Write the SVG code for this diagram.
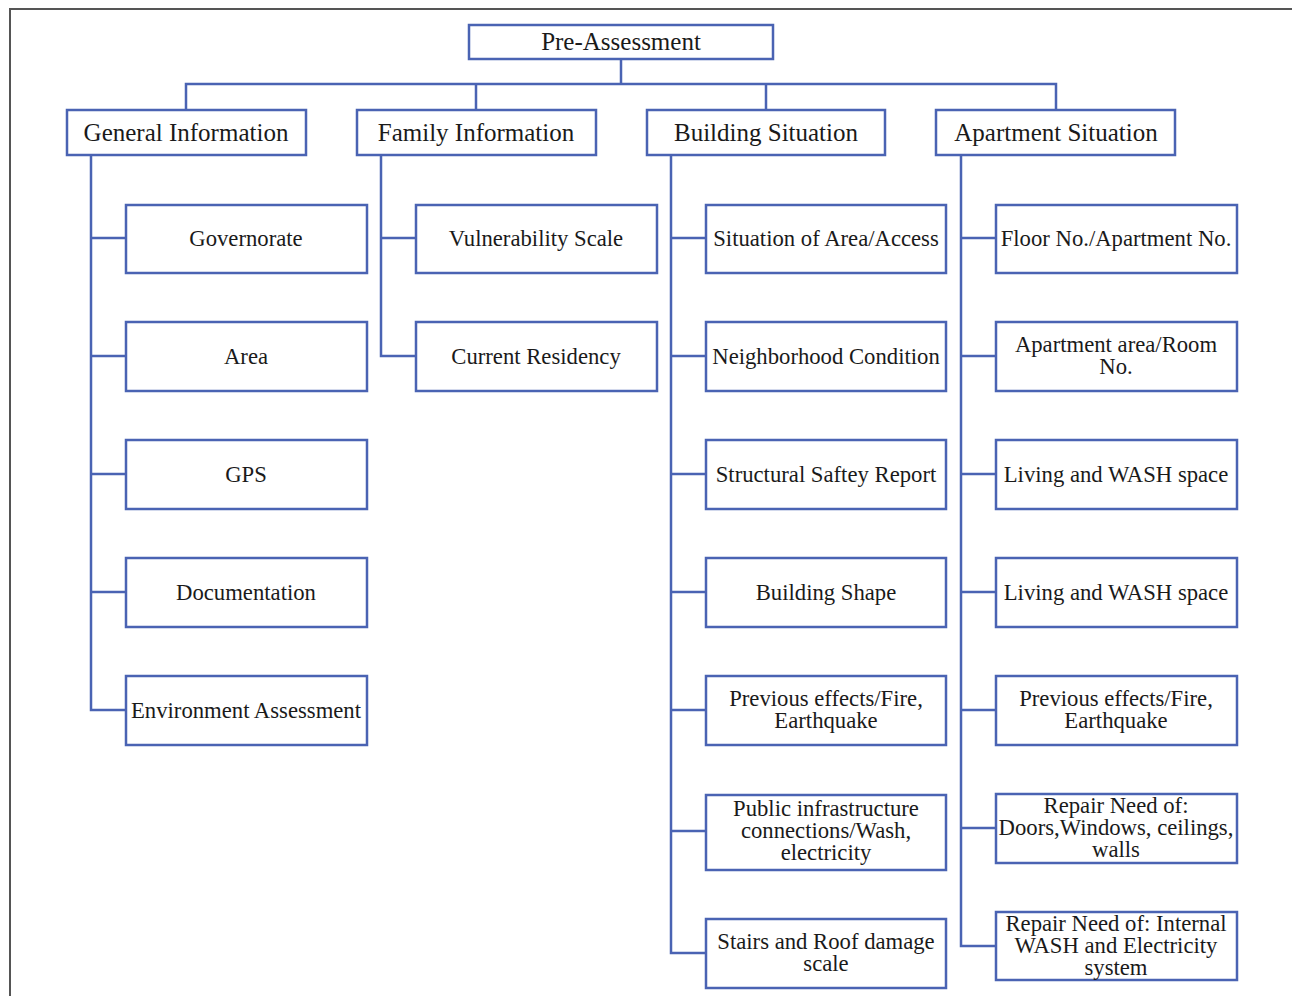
<svg xmlns="http://www.w3.org/2000/svg" width="1292" height="996" viewBox="0 0 1292 996">
<style>
.b{fill:#fff;stroke:#4a63b3;stroke-width:2.5}
.c{fill:none;stroke:#4a63b3;stroke-width:2.5}
text{font-family:"Liberation Serif","Times New Roman",serif;font-size:22.7px;fill:#1a1a1a;text-anchor:middle}
.h{font-size:25px}
</style>
<rect width="1292" height="996" fill="#fff"/>
<path d="M10 996V9H1292" fill="none" stroke="#555" stroke-width="2"/>
<g id="connectors" class="c">
<path d="M621 59V84M186 110V84H1056V110M476 84V110M766 84V110"/>
<path d="M91 155V710H126M91 238H126M91 356H126M91 474H126M91 592H126"/>
<path d="M381 155V356H416M381 238H416"/>
<path d="M671 155V953H706M671 238H706M671 356H706M671 474H706M671 592H706M671 710H706M671 831H706"/>
<path d="M961 155V946H996M961 238H996M961 356H996M961 474H996M961 592H996M961 710H996M961 828H996"/>
</g>
<g id="pre"><rect class="b" x="469" y="25" width="304" height="34"/><text class="h" x="621" y="50">Pre-Assessment</text></g>
<g id="gen"><rect class="b" x="67" y="110" width="239" height="45"/><text class="h" x="186" y="141">General Information</text></g>
<g id="fam"><rect class="b" x="357" y="110" width="239" height="45"/><text class="h" x="476" y="141">Family Information</text></g>
<g id="bld"><rect class="b" x="647" y="110" width="238" height="45"/><text class="h" x="766" y="141">Building Situation</text></g>
<g id="apt"><rect class="b" x="936" y="110" width="239" height="45"/><text class="h" x="1056" y="141">Apartment Situation</text></g>

<g id="g1"><rect class="b" x="126" y="205" width="241" height="68"/><text x="246" y="246">Governorate</text></g>
<g id="g2"><rect class="b" x="126" y="322" width="241" height="69"/><text x="246" y="364">Area</text></g>
<g id="g3"><rect class="b" x="126" y="440" width="241" height="69"/><text x="246" y="482">GPS</text></g>
<g id="g4"><rect class="b" x="126" y="558" width="241" height="69"/><text x="246" y="600">Documentation</text></g>
<g id="g5"><rect class="b" x="126" y="676" width="241" height="69"/><text x="246" y="718">Environment Assessment</text></g>

<g id="f1"><rect class="b" x="416" y="205" width="241" height="68"/><text x="536" y="246">Vulnerability Scale</text></g>
<g id="f2"><rect class="b" x="416" y="322" width="241" height="69"/><text x="536" y="364">Current Residency</text></g>

<g id="b1"><rect class="b" x="706" y="205" width="240" height="68"/><text x="826" y="246">Situation of Area/Access</text></g>
<g id="b2"><rect class="b" x="706" y="322" width="240" height="69"/><text x="826" y="364">Neighborhood Condition</text></g>
<g id="b3"><rect class="b" x="706" y="440" width="240" height="69"/><text x="826" y="482">Structural Saftey Report</text></g>
<g id="b4"><rect class="b" x="706" y="558" width="240" height="69"/><text x="826" y="600">Building Shape</text></g>
<g id="b5"><rect class="b" x="706" y="676" width="240" height="69"/><text x="826" y="706">Previous effects/Fire,</text><text x="826" y="728">Earthquake</text></g>
<g id="b6"><rect class="b" x="706" y="795" width="240" height="75"/><text x="826" y="816">Public infrastructure</text><text x="826" y="838">connections/Wash,</text><text x="826" y="860">electricity</text></g>
<g id="b7"><rect class="b" x="706" y="919" width="240" height="69"/><text x="826" y="949">Stairs and Roof damage</text><text x="826" y="971">scale</text></g>

<g id="a1"><rect class="b" x="996" y="205" width="241" height="68"/><text x="1116" y="246">Floor No./Apartment No.</text></g>
<g id="a2"><rect class="b" x="996" y="322" width="241" height="69"/><text x="1116" y="352">Apartment area/Room</text><text x="1116" y="374">No.</text></g>
<g id="a3"><rect class="b" x="996" y="440" width="241" height="69"/><text x="1116" y="482">Living and WASH space</text></g>
<g id="a4"><rect class="b" x="996" y="558" width="241" height="69"/><text x="1116" y="600">Living and WASH space</text></g>
<g id="a5"><rect class="b" x="996" y="676" width="241" height="69"/><text x="1116" y="706">Previous effects/Fire,</text><text x="1116" y="728">Earthquake</text></g>
<g id="a6"><rect class="b" x="996" y="794" width="241" height="69"/><text x="1116" y="813">Repair Need of:</text><text x="1116" y="835">Doors,Windows, ceilings,</text><text x="1116" y="857">walls</text></g>
<g id="a7"><rect class="b" x="996" y="912" width="241" height="68"/><text x="1116" y="931">Repair Need of: Internal</text><text x="1116" y="953">WASH and Electricity</text><text x="1116" y="975">system</text></g>
</svg>
